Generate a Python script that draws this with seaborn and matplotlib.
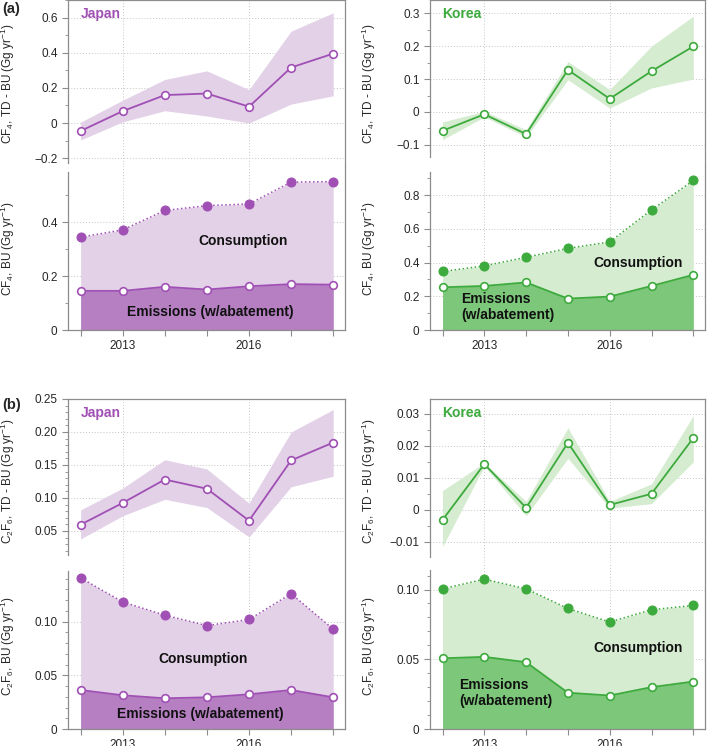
import numpy as np
import pandas as pd
import seaborn as sns
import matplotlib.pyplot as plt
from matplotlib.ticker import FixedLocator

sns.set_style("ticks")
plt.rcParams['font.family'] = ['Liberation Sans', 'DejaVu Sans']
plt.rcParams['font.size'] = 8.5
plt.rcParams['mathtext.fontset'] = 'custom'
plt.rcParams['mathtext.rm'] = 'Liberation Sans'
plt.rcParams['mathtext.it'] = 'Liberation Sans:italic'
plt.rcParams['mathtext.bf'] = 'Liberation Sans:bold'

# Data
years = [2012, 2013, 2014, 2015, 2016, 2017, 2018]

jp_cf4_diff = [-0.045, 0.068, 0.159, 0.168, 0.093, 0.316, 0.395]
jp_cf4_diff_hi = [0.005, 0.13, 0.248, 0.297, 0.19, 0.523, 0.627]
jp_cf4_diff_lo = [-0.096, 0.007, 0.07, 0.04, 0.0, 0.108, 0.155]
jp_cf4_cons = [0.344, 0.371, 0.443, 0.461, 0.467, 0.548, 0.55]
jp_cf4_emis = [0.145, 0.145, 0.16, 0.15, 0.162, 0.17, 0.168]

kr_cf4_diff = [-0.057, -0.007, -0.067, 0.128, 0.04, 0.124, 0.199]
kr_cf4_diff_hi = [-0.03, 0.002, -0.054, 0.153, 0.068, 0.2, 0.291]
kr_cf4_diff_lo = [-0.084, -0.015, -0.076, 0.098, 0.012, 0.073, 0.1]
kr_cf4_cons = [0.347, 0.38, 0.431, 0.484, 0.522, 0.712, 0.886]
kr_cf4_emis = [0.253, 0.261, 0.282, 0.186, 0.198, 0.261, 0.327]

jp_c2f6_diff = [0.0596, 0.0926, 0.128, 0.114, 0.0657, 0.157, 0.184]
jp_c2f6_diff_hi = [0.082, 0.115, 0.158, 0.144, 0.092, 0.2, 0.234]
jp_c2f6_diff_lo = [0.038, 0.073, 0.098, 0.0855, 0.041, 0.117, 0.133]
jp_c2f6_cons = [0.1407, 0.1183, 0.106, 0.0963, 0.102, 0.126, 0.093]
jp_c2f6_emis = [0.0363, 0.0314, 0.0286, 0.0295, 0.0323, 0.0363, 0.0295]

kr_c2f6_diff = [-0.0032, 0.0143, 0.0006, 0.021, 0.0015, 0.005, 0.0225]
kr_c2f6_diff_hi = [0.006, 0.0147, 0.0026, 0.0257, 0.0026, 0.0081, 0.0295]
kr_c2f6_diff_lo = [-0.0116, 0.0137, -0.0019, 0.0161, 0.0005, 0.0019, 0.015]
kr_c2f6_cons = [0.1005, 0.1074, 0.1005, 0.0864, 0.0767, 0.0855, 0.0886]
kr_c2f6_emis = [0.0507, 0.0517, 0.0479, 0.026, 0.024, 0.03, 0.034]

# colours: line, light fill, dark fill
colors = {
    'Japan': ('#a050b4', '#e3d1e8', '#b57fc2'),
    'Korea': ('#3daa3d', '#d5ecd0', '#7cc77a'),
}
spine_col = '#8c8c8c'

W, H = 709, 746
fig = plt.figure(figsize=(W / 100, H / 100), dpi=100)


def make_ax(x0, x1, y0, y1):
    # pixel box -> figure fraction
    return fig.add_axes([x0 / W, 1 - y1 / H, (x1 - x0) / W, (y1 - y0) / H])


def ticks_in(lo, hi, step):
    start = np.ceil(lo / step - 1e-6) * step
    return [round(v, 6) for v in np.arange(start, hi + step * 1e-6, step)]


def style_ax(ax, ylim, spine_lim, major, minor, fmt, top_panel):
    ax.set_xlim(2011.7, 2018.28)
    ax.set_ylim(*ylim)
    majors = ticks_in(spine_lim[0], spine_lim[1], major)
    ax.yaxis.set_major_locator(FixedLocator(majors))
    ax.yaxis.set_minor_locator(FixedLocator(ticks_in(spine_lim[0], spine_lim[1], minor)))
    ax.yaxis.set_major_formatter(plt.FuncFormatter(fmt))
    ax.set_xticks(years)
    ax.set_xticklabels(['' if y not in (2013, 2016) else str(y) for y in years])
    for s in ax.spines.values():
        s.set_color(spine_col)
        s.set_linewidth(0.9)
    ax.spines['left'].set_bounds(*spine_lim)
    ax.tick_params(which='both', direction='out', color=spine_col, labelsize=8.5)
    ax.tick_params(which='major', length=4)
    ax.tick_params(which='minor', length=2.5)
    ax.tick_params(axis='x', which='both', top=False)
    ax.tick_params(axis='y', which='both', right=False)
    if top_panel:
        ax.spines['bottom'].set_visible(False)
        ax.tick_params(axis='x', bottom=False, labelbottom=False)
    else:
        ax.spines['top'].set_visible(False)
    # dotted grid at major y ticks and at the labelled years
    ax.grid(False)
    for yv in majors:
        if ylim[0] < yv < ylim[1]:
            ax.axhline(yv, color='#c4c4c4', lw=0.7, ls=(0, (1, 2)), zorder=0)
    for xv in (2013, 2016):
        ax.axvline(xv, color='#c4c4c4', lw=0.7, ls=(0, (1, 2)), zorder=0)


def draw_diff(ax, country, diff, lo, hi):
    line, light, dark = colors[country]
    ax.fill_between(years, lo, hi, color=light, lw=0, zorder=1)
    df = pd.DataFrame({'year': years, 'val': diff})
    sns.lineplot(data=df, x='year', y='val', ax=ax, color=line, lw=1.3,
                 marker='o', markersize=5.5, markerfacecolor='white',
                 markeredgecolor=line, markeredgewidth=1.2, zorder=3)
    ax.set_xlabel('')
    ax.text(0.045, 0.915, country, transform=ax.transAxes, color=line,
            fontsize=10, fontweight='bold', va='center', ha='left')


def draw_bu(ax, country, cons, emis):
    line, light, dark = colors[country]
    ax.fill_between(years, 0, cons, color=light, lw=0, zorder=1)
    ax.fill_between(years, 0, emis, color=dark, lw=0, zorder=2)
    df = pd.DataFrame({'year': years, 'cons': cons, 'emis': emis})
    sns.lineplot(data=df, x='year', y='cons', ax=ax, color=line, lw=1.1,
                 linestyle=':', marker='o', markersize=6.5,
                 markerfacecolor=line, markeredgecolor=line, zorder=3)
    sns.lineplot(data=df, x='year', y='emis', ax=ax, color=line, lw=1.3,
                 marker='o', markersize=5.5, markerfacecolor='white',
                 markeredgecolor=line, markeredgewidth=1.2, zorder=3)
    ax.set_xlabel('')


def fmt_plain(v, pos):
    if abs(v) < 1e-12:
        return '0'
    return ('%g' % v).replace('-', '\u2212')


def fmt2(v, pos):
    if abs(v) < 1e-12:
        return '0'
    return '%.2f' % v


def ylab(ax, text, xpos):
    ax.set_ylabel(text, fontsize=8.5)
    ax.yaxis.set_label_coords(xpos, 0.5)


bold = dict(fontsize=10, fontweight='bold', color='#111111')

# ---- (a) CF4 ----
ax = make_ax(68, 345, 0, 167)
draw_diff(ax, 'Japan', jp_cf4_diff, jp_cf4_diff_lo, jp_cf4_diff_hi)
style_ax(ax, (-0.25, 0.70), (-0.23, 0.70), 0.2, 0.1, fmt_plain, True)
ylab(ax, 'CF$_4$, TD - BU (Gg yr$^{-1}$)', -0.184)

ax = make_ax(68, 345, 167, 330)
draw_bu(ax, 'Japan', jp_cf4_cons, jp_cf4_emis)
style_ax(ax, (0, 0.604), (0, 0.585), 0.2, 0.1, fmt_plain, False)
ylab(ax, 'CF$_4$, BU (Gg yr$^{-1}$)', -0.184)
ax.text(2015.86, 0.33, 'Consumption', ha='center', va='center', **bold)
ax.text(2015.07, 0.067, 'Emissions (w/abatement)', ha='center', va='center', **bold)

ax = make_ax(430, 705, 0, 167)
draw_diff(ax, 'Korea', kr_cf4_diff, kr_cf4_diff_lo, kr_cf4_diff_hi)
style_ax(ax, (-0.167, 0.34), (-0.136, 0.34), 0.1, 0.05, fmt_plain, True)
ylab(ax, 'CF$_4$, TD - BU (Gg yr$^{-1}$)', -0.19)

ax = make_ax(430, 705, 167, 330)
draw_bu(ax, 'Korea', kr_cf4_cons, kr_cf4_emis)
style_ax(ax, (0, 0.966), (0, 0.936), 0.2, 0.1, fmt_plain, False)
ylab(ax, 'CF$_4$, BU (Gg yr$^{-1}$)', -0.19)
ax.text(2016.67, 0.40, 'Consumption', ha='center', va='center', **bold)
ax.text(2012.45, 0.136, 'Emissions\n(w/abatement)', ha='left', va='center',
        linespacing=1.15, **bold)

# ---- (b) C2F6 ----
ax = make_ax(68, 345, 399, 563)
draw_diff(ax, 'Japan', jp_c2f6_diff, jp_c2f6_diff_lo, jp_c2f6_diff_hi)
style_ax(ax, (0.0015, 0.25), (0.014, 0.25), 0.05, 0.01, fmt2, True)
ylab(ax, 'C$_2$F$_6$, TD - BU (Gg yr$^{-1}$)', -0.184)

ax = make_ax(68, 345, 563, 729)
draw_bu(ax, 'Japan', jp_c2f6_cons, jp_c2f6_emis)
style_ax(ax, (0, 0.1546), (0, 0.147), 0.05, 0.01, fmt2, False)
ylab(ax, 'C$_2$F$_6$, BU (Gg yr$^{-1}$)', -0.184)
ax.text(2014.9, 0.065, 'Consumption', ha='center', va='center', **bold)
ax.text(2014.85, 0.014, 'Emissions (w/abatement)', ha='center', va='center', **bold)

ax = make_ax(430, 705, 399, 563)
draw_diff(ax, 'Korea', kr_c2f6_diff, kr_c2f6_diff_lo, kr_c2f6_diff_hi)
style_ax(ax, (-0.0167, 0.0347), (-0.0147, 0.0347), 0.01, 0.005, fmt_plain, True)
ylab(ax, 'C$_2$F$_6$, TD - BU (Gg yr$^{-1}$)', -0.19)

ax = make_ax(430, 705, 563, 729)
draw_bu(ax, 'Korea', kr_c2f6_cons, kr_c2f6_emis)
style_ax(ax, (0, 0.119), (0, 0.1137), 0.05, 0.01, fmt2, False)
ylab(ax, 'C$_2$F$_6$, BU (Gg yr$^{-1}$)', -0.19)
ax.text(2016.67, 0.058, 'Consumption', ha='center', va='center', **bold)
ax.text(2012.4, 0.026, 'Emissions\n(w/abatement)', ha='left', va='center',
        linespacing=1.15, **bold)

# panel letters
fig.text(2 / W, 1 - 9 / H, '(a)', fontsize=10.5, fontweight='bold', va='center')
fig.text(2 / W, 1 - 405 / H, '(b)', fontsize=10.5, fontweight='bold', va='center')

fig.savefig('out.png', dpi=100)
